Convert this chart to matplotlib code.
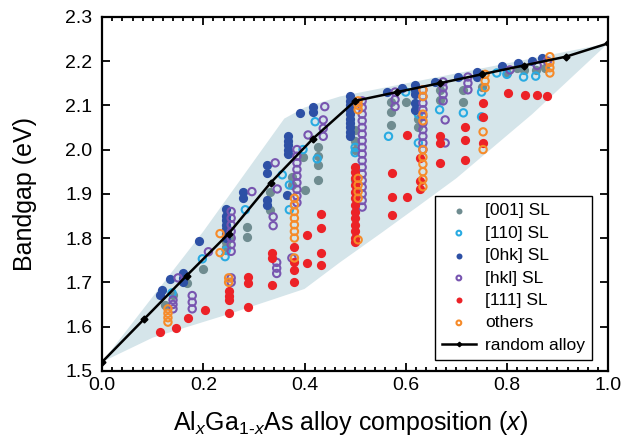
import numpy as np
import matplotlib
matplotlib.use("Agg")
from matplotlib import pyplot as plt
from matplotlib.ticker import MultipleLocator

plt.rcParams['font.family'] = ['Liberation Sans', 'DejaVu Sans']
plt.rcParams['mathtext.fontset'] = 'custom'
plt.rcParams['mathtext.rm'] = 'Liberation Sans'
plt.rcParams['mathtext.it'] = 'Liberation Sans:italic'

# shaded region (upper and lower edge)
band_up_x = [0.0, 0.2, 0.36, 0.4, 0.47, 1.0]
band_up_y = [1.52, 1.815, 2.07, 2.095, 2.12, 2.24]
band_lo_x = [0.0, 0.1, 0.25, 0.4, 0.47, 0.55, 0.62, 0.7, 0.85, 1.0]
band_lo_y = [1.52, 1.575, 1.628, 1.685, 1.745, 1.81, 1.868, 1.935, 2.08, 2.24]

# random alloy
alloy_x = [0.0, 0.083, 0.167, 0.25, 0.333, 0.417, 0.5, 0.583, 0.667, 0.75, 0.833, 0.917, 1.0]
alloy_y = [1.52, 1.617, 1.715, 1.81, 1.925, 2.025, 2.11, 2.13, 2.15, 2.17, 2.19, 2.21, 2.24]

# [001] SL
sl001_x = [0.125, 0.14, 0.167, 0.2, 0.245, 0.245, 0.25, 0.286, 0.286, 0.332, 0.332, 0.375, 0.375,
           0.401, 0.397, 0.427, 0.427, 0.427, 0.427, 0.5, 0.5, 0.5, 0.5, 0.571, 0.571, 0.571, 0.6,
           0.625, 0.625, 0.667, 0.667, 0.714, 0.714, 0.75, 0.8, 0.82, 0.833, 0.857, 0.875]
sl001_y = [1.649, 1.672, 1.699, 1.73, 1.78, 1.79, 1.80, 1.803, 1.825, 1.905, 1.864, 1.938, 1.92,
           1.909, 1.983, 1.932, 1.965, 1.985, 2.005, 2.0, 2.02, 2.045, 1.932, 2.108, 2.085, 2.056, 2.108,
           2.05, 2.07, 2.135, 2.112, 2.135, 2.108, 2.142, 2.173, 2.185, 2.18, 2.18, 2.185]

# [110] SL
sl110_x = [0.138, 0.198, 0.243, 0.245, 0.283, 0.37, 0.37, 0.356, 0.397, 0.425, 0.421, 0.5, 0.5,
           0.566, 0.6, 0.625, 0.625, 0.667, 0.714, 0.75, 0.75, 0.78, 0.8, 0.833, 0.857]
sl110_y = [1.676, 1.753, 1.758, 1.772, 1.864, 1.864, 1.92, 1.943, 2.0, 1.979, 2.063, 1.993, 2.005,
           2.03, 2.13, 2.015, 2.08, 2.09, 2.083, 2.13, 2.074, 2.173, 2.17, 2.164, 2.166]

# [0hk] SL
sl0hk_x = [0.115, 0.118, 0.134, 0.16, 0.16, 0.16, 0.192,
           0.245, 0.245, 0.245, 0.245, 0.245, 0.245, 0.245,
           0.279, 0.279, 0.326, 0.326, 0.326, 0.326, 0.365,
           0.368, 0.368, 0.368, 0.368, 0.368, 0.391, 0.417, 0.417,
           0.49, 0.49, 0.49, 0.49, 0.49, 0.49, 0.49, 0.49, 0.49, 0.49,
           0.563, 0.593, 0.619, 0.619, 0.619, 0.619, 0.619,
           0.658, 0.704, 0.74, 0.74, 0.79, 0.822, 0.85, 0.87]
sl0hk_y = [1.672, 1.682, 1.708, 1.70, 1.71, 1.72, 1.794,
           1.80, 1.81, 1.82, 1.83, 1.84, 1.85, 1.865,
           1.905, 1.89, 1.966, 1.947, 1.875, 1.886, 1.898,
           1.99, 2.0, 2.01, 2.02, 2.03, 2.083, 2.085, 2.097,
           2.03, 2.04, 2.05, 2.06, 2.07, 2.08, 2.09, 2.10, 2.11, 2.12,
           2.13, 2.14, 2.09, 2.105, 2.125, 2.135, 2.146,
           2.153, 2.164, 2.164, 2.175, 2.19, 2.195, 2.2, 2.207]

# [hkl] SL
slhkl_x = [0.14, 0.14, 0.14, 0.15, 0.178, 0.178, 0.178, 0.21,
           0.255, 0.255, 0.255, 0.255, 0.255, 0.255, 0.255, 0.255, 0.255,
           0.338, 0.338, 0.345, 0.345, 0.345, 0.375, 0.296, 0.342, 0.346,
           0.385, 0.385, 0.385, 0.385, 0.385, 0.385, 0.385, 0.385, 0.385,
           0.407, 0.44, 0.437, 0.437, 0.437,
           0.514, 0.514, 0.514, 0.514, 0.514, 0.514, 0.514, 0.514, 0.514,
           0.514, 0.514, 0.514, 0.514, 0.514, 0.514, 0.514, 0.514,
           0.579, 0.579, 0.579,
           0.634, 0.634, 0.634, 0.634, 0.634, 0.634, 0.634, 0.634, 0.634, 0.634,
           0.674, 0.674, 0.674, 0.674, 0.678, 0.678, 0.723, 0.723, 0.723, 0.806, 0.86, 0.88]
slhkl_y = [1.64, 1.65, 1.66, 1.71, 1.64, 1.655, 1.67, 1.769,
           1.77, 1.785, 1.80, 1.815, 1.83, 1.845, 1.86, 1.70, 1.71,
           1.848, 1.828, 1.72, 1.732, 1.745, 1.755, 1.905, 1.97, 1.911,
           1.88, 1.895, 1.91, 1.925, 1.94, 1.955, 1.97, 1.985, 2.0,
           2.033, 2.097, 2.03, 2.048, 2.067,
           1.87, 1.885, 1.90, 1.915, 1.93, 1.945, 1.96, 1.975, 1.99,
           2.005, 2.02, 2.035, 2.05, 2.065, 2.08, 2.095, 2.11,
           2.097, 2.113, 2.13,
           2.0, 2.015, 2.03, 2.045, 2.06, 2.075, 2.09, 2.105, 2.12, 2.135,
           2.11, 2.125, 2.14, 2.153, 2.067, 2.015, 2.135, 2.15, 2.164, 2.18, 2.19, 2.2]

# [111] SL
sl111_x = [0.115, 0.146, 0.17, 0.204, 0.25, 0.25, 0.25, 0.25, 0.289, 0.289, 0.289,
           0.336, 0.336, 0.336, 0.38, 0.38, 0.38, 0.38, 0.405, 0.405, 0.433, 0.433, 0.433, 0.433,
           0.5, 0.5, 0.5, 0.5, 0.5, 0.5, 0.5, 0.5, 0.5, 0.5, 0.5, 0.5, 0.5,
           0.573, 0.573, 0.573, 0.603, 0.603, 0.628, 0.628, 0.628, 0.668, 0.668, 0.668,
           0.717, 0.717, 0.717, 0.753, 0.753, 0.753, 0.802, 0.836, 0.86, 0.88]
sl111_y = [1.588, 1.597, 1.62, 1.638, 1.66, 1.67, 1.68, 1.631, 1.712, 1.699, 1.645,
           1.767, 1.755, 1.694, 1.70, 1.728, 1.746, 1.78, 1.807, 1.744, 1.855, 1.823, 1.767, 1.74,
           1.79, 1.80, 1.815, 1.83, 1.845, 1.86, 1.875, 1.89, 1.905, 1.92, 1.935, 1.95, 1.96,
           1.947, 1.893, 1.853, 1.893, 2.033, 1.98, 1.93, 1.91, 2.03, 2.015, 1.97,
           2.05, 2.022, 1.977, 2.105, 2.074, 2.015, 2.128, 2.124, 2.124, 2.12]

# others
oth_x = [0.13, 0.13, 0.13, 0.13, 0.233, 0.233, 0.25, 0.25,
         0.38, 0.38, 0.38, 0.38, 0.38, 0.38, 0.38, 0.38,
         0.506, 0.506, 0.506, 0.506, 0.506, 0.506, 0.506, 0.506,
         0.634, 0.634, 0.634, 0.634, 0.634, 0.634, 0.634, 0.634, 0.634, 0.634,
         0.757, 0.757, 0.757, 0.753, 0.753, 0.885, 0.885, 0.885, 0.885]
oth_y = [1.61, 1.62, 1.63, 1.64, 1.81, 1.767, 1.70, 1.71,
         1.80, 1.815, 1.83, 1.845, 1.86, 1.875, 1.89, 1.755,
         2.09, 2.10, 2.11, 1.89, 1.905, 1.92, 1.935, 1.796,
         1.916, 1.933, 1.95, 1.967, 1.983, 2.0, 2.065, 2.08, 2.12, 2.135,
         2.14, 2.155, 2.17, 2.04, 2.0, 2.173, 2.185, 2.197, 2.21]

fig = plt.figure(figsize=(6.23, 4.43), dpi=100)
ax = fig.add_axes([0.164, 0.163, 0.812, 0.799])

# shaded polygon
poly_x = band_up_x + band_lo_x[::-1]
poly_y = band_up_y + band_lo_y[::-1]
ax.fill(poly_x, poly_y, color='#d5e5ea', lw=0, zorder=1)

s_fill = 44
s_open = 28
lw_open = 1.5
ax.scatter(sl001_x, sl001_y, s=s_fill, color='#6f8c90', lw=0, label='[001] SL', zorder=3)
ax.scatter(sl110_x, sl110_y, s=s_open, facecolors='none', edgecolors='#29abe2', lw=lw_open, label='[110] SL', zorder=3)
ax.scatter(sl0hk_x, sl0hk_y, s=s_fill, color='#2d50a5', lw=0, label='[0hk] SL', zorder=3)
ax.scatter(slhkl_x, slhkl_y, s=s_open, facecolors='none', edgecolors='#7855b0', lw=lw_open, label='[hkl] SL', zorder=3)
ax.scatter(sl111_x, sl111_y, s=s_fill, color='#ec2227', lw=0, label='[111] SL', zorder=3)
ax.scatter(oth_x, oth_y, s=s_open, facecolors='none', edgecolors='#f68b2a', lw=lw_open, label='others', zorder=3)
ax.plot(alloy_x, alloy_y, color='black', lw=1.8, marker='D', ms=3.5, label='random alloy', zorder=5)

ax.set_xlim(0, 1.0)
ax.set_ylim(1.5, 2.3)
ax.xaxis.set_major_locator(MultipleLocator(0.2))
ax.xaxis.set_minor_locator(MultipleLocator(0.02))
ax.yaxis.set_major_locator(MultipleLocator(0.1))
ax.set_xticklabels(['%.1f' % t for t in ax.get_xticks()])
ax.tick_params(which='both', direction='in', top=True, right=True, labelsize=14, width=1.3)
ax.tick_params(which='major', length=6)
ax.tick_params(which='minor', length=3)
ax.tick_params(axis='y', pad=7)
ax.tick_params(axis='x', pad=4.5)
for sp in ax.spines.values():
    sp.set_linewidth(1.6)

ax.set_ylabel('Bandgap (eV)', fontsize=18)
ax.set_xlabel(r'Al$_{\mathit{x}}$Ga$_{\mathit{1\text{-}x}}$As alloy composition ($\mathit{x}$)', fontsize=18)
ax.yaxis.set_label_coords(-0.128, 0.5)
ax.xaxis.set_label_coords(0.49, -0.107)

leg = ax.legend(loc='lower right', bbox_to_anchor=(0.968, 0.031), borderaxespad=0, fontsize=12.5,
                markerscale=0.65, fancybox=False, edgecolor='black', framealpha=1, labelspacing=0.42,
                handlelength=2.0, handletextpad=0.5, borderpad=0.4)
leg.get_frame().set_linewidth(1.0)

plt.savefig("out.png", dpi=100)
